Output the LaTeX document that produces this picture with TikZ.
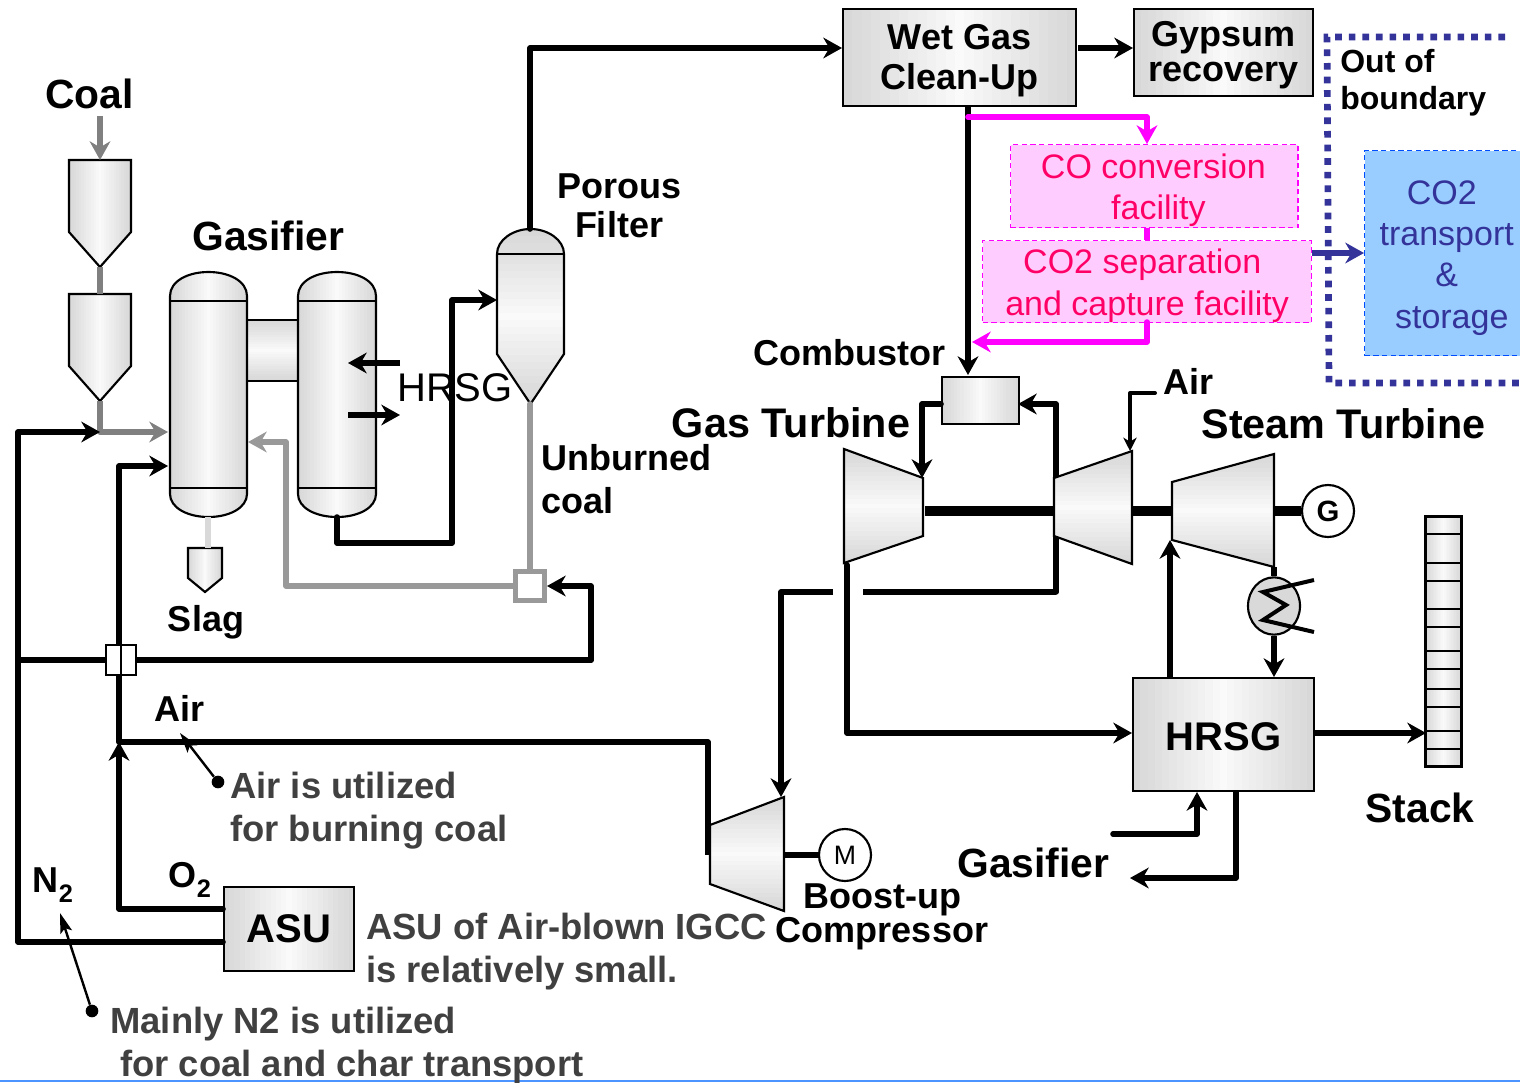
\documentclass[tikz,border=0pt]{standalone}
\usepackage{fontspec}
\setmainfont{Liberation Sans}
\usetikzlibrary{arrows.meta,shapes.geometric,calc}
\definecolor{pinktext}{RGB}{255,0,102}
\definecolor{navy}{RGB}{51,51,153}
\definecolor{skyfill}{RGB}{153,204,255}
\definecolor{pinkline}{RGB}{255,0,255}
\definecolor{pinkfill}{RGB}{255,204,255}
\definecolor{notegray}{RGB}{64,64,64}
\newcommand{\lowtwo}{\raisebox{-0.28em}{\fontsize{19}{20}\selectfont 2}}
%light in the middle, darker at both edges
\newcommand{\sidestrips}{\foreach \t in {0,0.04,...,0.97}{
    \pgfmathsetmacro{\g}{2+14*abs(2*\t+0.04-1)}
    \fill[black!\g] ($(path picture bounding box.south west)!\t!(path picture bounding box.south east)$) rectangle (path picture bounding box.north east);}}
\newcommand{\updownstrips}{\foreach \t in {0,0.04,...,0.97}{
    \pgfmathsetmacro{\g}{2+14*abs(2*\t+0.04-1)}
    \fill[black!\g] ($(path picture bounding box.north west)!\t!(path picture bounding box.south west)$) rectangle (path picture bounding box.south east);}}
\tikzset{every picture/.style={line width=0.5pt}}
\tikzset{
  pipe/.style={line width=4.2pt,line join=round,line cap=round},
  flow/.style={pipe,-{Stealth[length=14pt,width=15.5pt,inset=4.5pt]}},
  thinflow/.style={pipe,line width=3pt,-{Stealth[length=10pt,width=10pt,inset=3pt]}},
  grayflow/.style={flow,color=black!50},
  pinkflow/.style={flow,color=pinkline},
  metal/.style={draw,line width=1.6pt,path picture={\sidestrips}},
  metalv/.style={draw,line width=1.6pt,path picture={\updownstrips}},
  unitbox/.style={metal,rectangle,anchor=north west,inner sep=0pt,align=center},
  pinkbox/.style={draw=pinkline,dash pattern=on 4pt off 2.5pt,line width=1.1pt,fill=pinkfill,text=pinktext,anchor=north west,inner sep=0pt,align=center,font=\fontsize{25.5}{31}\selectfont},
  title/.style={font=\bfseries\fontsize{30.6}{34}\selectfont,inner sep=0pt},
  label/.style={font=\bfseries\fontsize{27}{32}\selectfont,inner sep=0pt,align=left},
  note/.style={label,font=\bfseries\fontsize{27.3}{32}\selectfont,text=notegray},
  leader/.style={line width=1.8pt,-{Stealth[length=15pt,width=9pt,inset=3pt]}},
}
\begin{document}
\begin{tikzpicture}[x=0.75pt,y=0.75pt,yscale=-1,xscale=1]
    \useasboundingbox (0,0) rectangle (1520,1082);
    \draw[blue!60!cyan!70,line width=1pt] (0,1081) -- (1520,1081);

    %Boxes
    \node[unitbox,minimum width=174.75pt,minimum height=72.75pt,font=\bfseries\fontsize{27}{30}\selectfont] (wetgas) at (842,8) {\rule{0pt}{24pt}Wet Gas\\Clean-Up};
    \node[unitbox,minimum width=134.25pt,minimum height=65.25pt,font=\bfseries\fontsize{27}{26.5}\selectfont] (gypsum) at (1133,8) {\rule{0pt}{23pt}Gypsum\\recovery};
    \node[pinkbox,minimum width=215.5pt,minimum height=62.25pt] (coconv) at (1010,144) {\rule{0pt}{24.6pt}CO conversion\hspace*{1.5pt}\\\hspace*{6pt}facility};
    \node[pinkbox,minimum width=246.5pt,minimum height=61.5pt] (cosep) at (982,240) {\rule{0pt}{24.6pt}CO2 separation\hspace*{7.2pt}\\and capture facility};
    \node[draw=blue!70!cyan,dash pattern=on 4pt off 2.5pt,line width=1.1pt,fill=skyfill,text=navy,anchor=north west,inner sep=0pt,align=center,minimum width=123pt,minimum height=153.75pt,font=\fontsize{25.5}{31}\selectfont] (storage) at (1364,150) {\rule{0pt}{24.6pt}CO2\hspace*{7.5pt}\\transport\\\&\\\hspace*{7.5pt}storage};
    \node[unitbox,minimum width=57.5pt,minimum height=35.25pt] (combustor) at (941,376) {};
    \node[unitbox,minimum width=135.75pt,minimum height=84.75pt,font=\bfseries\fontsize{30}{34}\selectfont] (hrsg) at (1132,677) {\rule{0pt}{23.5pt}HRSG};
    \node[unitbox,minimum width=97.5pt,minimum height=63pt,font=\bfseries\fontsize{30}{34}\selectfont] (asu) at (223,886) {ASU};
    \node[draw,circle,fill=white,line width=1.6pt,minimum size=39pt,inner sep=0pt,font=\bfseries\fontsize{22}{24}\selectfont] (gen) at (1328,511) {G};
    \node[draw,circle,fill=white,line width=1.6pt,minimum size=39pt,inner sep=0pt,font=\fontsize{20}{24}\selectfont] (motor) at (845,855) {M};
    \node[draw,ellipse,fill=black!15,line width=1.6pt,minimum width=39pt,minimum height=43pt,inner sep=0pt] (cooler) at (1274,606) {};

    %Hoppers
    \draw[metal] (69,160) -- (131,160) -- (131,232) -- (100,267) -- (69,232) -- cycle;
    \draw[metal] (69,294) -- (131,294) -- (131,366) -- (100,401) -- (69,366) -- cycle;
    \draw[metal] (188,548) -- (222,548) -- (222,578) -- (205,592) -- (188,578) -- cycle;

    %Gasifier
    \draw[metalv,line width=1.2pt] (247,320) rectangle (298,381);
    \draw[metal] (170,296) .. controls (170,281) and (188,272) .. (208.5,272) .. controls (229,272) and (247,281) .. (247,296) -- (247,494) .. controls (247,508) and (229,517) .. (208.5,517) .. controls (188,517) and (170,508) .. (170,494) -- cycle;
    \draw[line width=1.2pt] (170,301) -- (247,301) (170,488) -- (247,488);
    \draw[metal] (298,296) .. controls (298,281) and (316,272) .. (337,272) .. controls (358,272) and (376,281) .. (376,296) -- (376,494) .. controls (376,508) and (358,517) .. (337,517) .. controls (316,517) and (298,508) .. (298,494) -- cycle;
    \draw[line width=1.2pt] (298,301) -- (376,301) (298,488) -- (376,488);

    %Porous filter
    \draw[metalv] (497,254) .. controls (497,240) and (513,229) .. (530.5,229) .. controls (548,229) and (564,240) .. (564,254) -- (564,354) -- (530.5,404) -- (497,354) -- cycle;
    \draw[line width=1.2pt] (497,254) -- (564,254);

    %Stack
    \draw[metal] (1425.5,516.5) rectangle (1461.5,766.5);
    \foreach \y in {534,563,581,609,627,651,669,689,707,731,749}
        \draw[line width=1.2pt] (1425.5,\y) -- (1461.5,\y);

    %Left side pipes
    \coordinate (coalin) at (100,116);
    \coordinate (mixa) at (100,432);
    \coordinate (airtee) at (119,742);
    \coordinate (leftbus) at (18,660);
    \draw[grayflow,line cap=butt] (coalin) -- (100,160);
    \draw[pipe,color=black!50,line cap=butt] (100,267) -- (100,294) (100,401) -- (mixa);
    \draw[grayflow] (mixa) -- (168,432);
    \draw[flow] (asu.west |- 0,942) -- (18,942) -- (18,432) -- (mixa);
    \draw[pipe] (leftbus) -- (591,660);
    \draw[flow] (591,660) -- (591,586) -- (547,586);
    \draw[flow] (asu.west |- 0,909) -- (119,909) -- (airtee);
    \draw[flow] (airtee) -- (119,466) -- (168,466);
    \draw[pipe,line cap=butt] (airtee) -- (708,742) -- (708,855);
    \draw[pipe,color=black!15,line cap=butt] (208,517) -- (208,548);
    \node[draw,fill=white,line width=1.4pt,minimum width=22pt,minimum height=23pt,inner sep=0pt] (cross) at (121,660) {};
    \draw[line width=1.4pt] (cross.north) -- (cross.south);

    %Filter pipes
    \draw[flow] (337,517) -- (337,543) -- (452,543) -- (452,300) -- (497,300);
    \draw[flow] (530,229) -- (530,48) -- (wetgas.west |- 0,48);
    \draw[flow,line cap=butt] (400,363) -- (348,363);
    \draw[flow,line cap=butt] (348,415) -- (400,415);
    \node[font=\fontsize{30}{34}\selectfont,inner sep=0pt] (hrsgtext) at (455,388) {HRSG};
    \draw[pipe,color=black!40] (530,404) -- (530,572);
    \node[draw=black!40,fill=white,line width=3.4pt,minimum width=22pt,minimum height=22pt,inner sep=0pt] (valve) at (530,586) {};
    \draw[flow,color=black!40] (valve.west) -- (286,586) -- (286,442) -- (248,442);

    %Right side pipes
    \draw[flow,line cap=butt] (1078,48) -- (gypsum.west |- 0,48);
    \draw[flow,line cap=butt] (968,105) -- (968,375);
    \draw[pinkflow] (968,117) -- (1147,117) -- (1147,144);
    \draw[pipe,color=pinkline,line cap=butt] (coconv.south -| 1147,0) -- (1147,240);
    \draw[pinkflow] (1147,322) -- (1147,342) -- (972,342);
    \draw[flow,color=navy,line cap=butt] (cosep.east |- 0,253) -- (storage.west |- 0,253);
    \draw[navy,line width=5pt,dash pattern=on 5pt off 5.2pt] (1505,37) -- (1327,37) -- (1329,383) -- (1520,383);

    \draw[flow] (941,404) -- (922,404) -- (922,478);
    \draw[flow] (1056,592) -- (1056,404) -- (1018,404);
    \draw[pipe,line cap=butt] (1056,592) -- (863,592);
    \draw[flow,line cap=butt] (833,592) -- (781,592) -- (781,797);
    \draw[flow] (847,565) -- (847,733) -- (1132,733);
    \draw[thinflow] (1155,393) -- (1130,393) -- (1130,451);
    \draw[line width=8pt] (925,511) -- (1054,511);
    \draw[line width=7pt] (1132,511) -- (1172,511);
    \draw[line width=7pt] (1274,511) -- (gen.west);
    \draw[pipe,line width=5pt,line cap=butt] (784,855) -- (motor.west);
    \draw[flow,line width=5pt,line cap=butt] (1170,677) -- (1170,540);
    \draw[pipe,line cap=butt] (1274,567) -- (cooler.north);
    \draw[flow,line cap=butt] (cooler.south) -- (1274,677);
    \draw[line width=3pt,line join=miter] (1314,580) -- (1263,592) -- (1286,605) -- (1263,620) -- (1314,632);
    \draw[flow,line cap=butt] (hrsg.east |- 0,733) -- (1426,733);
    \draw[flow] (1113,834) -- (1197,834) -- (1197,792);
    \draw[flow,line cap=butt] (1236,790) -- (1236,878) -- (1130,878);

    %Turbines
    \draw[metalv] (844,449) -- (923,478) -- (923,536) -- (844,563) -- cycle;
    \draw[metalv] (1054,478) -- (1132,451) -- (1132,564) -- (1054,536) -- cycle;
    \draw[metalv] (1172,482) -- (1274,454) -- (1274,567) -- (1172,540) -- cycle;
    \draw[metalv] (710,825) -- (784,797) -- (784,911) -- (710,884) -- cycle;

    %Leaders
    \node[circle,fill=black,inner sep=0pt,minimum size=9.5pt] (aird) at (218,782) {};
    \node[circle,fill=black,inner sep=0pt,minimum size=9.5pt] (nd) at (92,1011) {};
    \coordinate (airh) at (180,733);
    \coordinate (nh) at (60,913);
    \draw[leader] (aird) -- (airh);
    \draw[leader] (nd) -- (nh);

    % Text Node
    \node[title] (coal) at (89.5,94) {Coal};
    \node[title] (gasifier) at (268.5,236) {Gasifier};
    \node[label,align=center,font=\bfseries\fontsize{27}{29.5}\selectfont] (filter) at (619,206) {Porous\\Filter};
    \node[label,anchor=north west] (unburned) at (541,444) {Unburned\\coal};
    \node[label] (slag) at (206,622) {Slag};
    \node[label] (airl) at (180,708) {Air};
    \node[note,anchor=north west] (airnote) at (230,772) {Air is utilized\\for burning coal};
    \node[label] (ntwo) at (53,885) {N\lowtwo};
    \node[label] (otwo) at (190,880) {O\lowtwo};
    \node[note,anchor=north west] (asunote) at (366,913) {ASU of Air-blown IGCC\\is relatively small.};
    \node[note,anchor=north west] (nnote) at (110,1007) {Mainly N2 is utilized\\\hspace*{7.5pt}for coal and char transport};
    \node[label,align=center,font=\bfseries\fontsize{27}{26}\selectfont] (boost) at (882,917) {Boost-up\\Compressor};
    \node[title] (gasifierb) at (1033.5,863) {Gasifier};
    \node[title] (stack) at (1420,808) {Stack};
    \node[label] (combl) at (849,353) {Combustor};
    \node[title,font=\bfseries\fontsize{31}{34}\selectfont] (gasturb) at (791,423) {Gas Turbine};
    \node[title,font=\bfseries\fontsize{31}{34}\selectfont] (steamturb) at (1343.5,424) {Steam Turbine};
    \node[label] (airr) at (1188,381) {Air};
    \node[label,anchor=north west,font=\bfseries\fontsize{24}{28}\selectfont] (outb) at (1340,49) {Out of\\boundary};
\end{tikzpicture}
\end{document}
